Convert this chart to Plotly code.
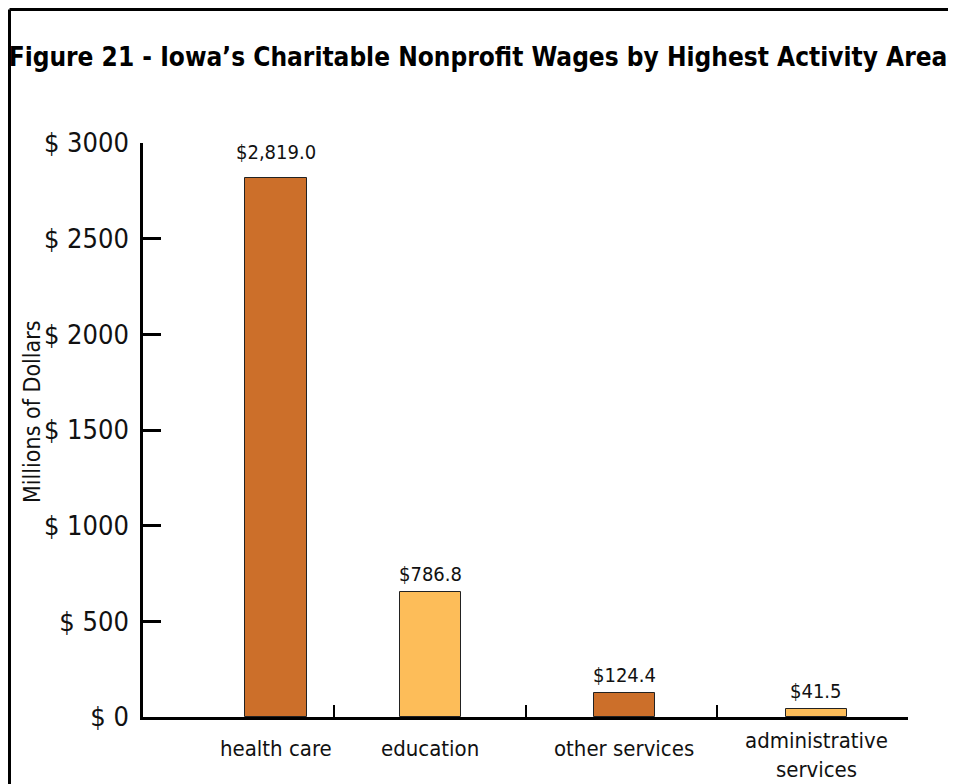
import plotly.graph_objects as go

# ---- data ----
categories = ["health care", "education", "other services", "administrative<br>services"]
wage_labels = [2819.0, 786.8, 124.4, 41.5]       # values printed above the bars
bar_heights = [2819.0, 655.0, 124.4, 41.5]       # bar heights as drawn in the source picture
colors = ["#CC6F2A", "#FDBD59", "#CC6F2A", "#FDBD59"]
y_ticks = [0, 500, 1000, 1500, 2000, 2500, 3000]

# bar centre positions along the category axis (each category spans 1 unit)
positions = [0.695, 1.503, 2.517, 3.52]
boundaries = [1, 2, 3, 4]
label_shift = [-31, -31, -31, -38]
value_shift = [12, 4, 4, 4]

# page has an 8px body margin -> figure sized to fit the window
W, H = 948, 776
L, R, T, B = 135, 48, 135, 67
pw, ph = W - L - R, H - T - B

FONT = "DejaVu Sans Condensed, sans-serif"

fig = go.Figure()
fig.add_trace(go.Bar(
    x=positions, y=bar_heights, width=0.32,
    marker=dict(color=colors, line=dict(color="#222222", width=1)),
    showlegend=False, hoverinfo="skip",
))

# value labels above bars
for xp, h, v, s in zip(positions, bar_heights, wage_labels, value_shift):
    fig.add_annotation(
        x=xp, y=h, xref="x", yref="y", text=f"${v:,.1f}",
        showarrow=False, yanchor="bottom", yshift=s,
        font=dict(family=FONT, size=20, color="#111111"),
    )

# category labels
for xp, c, s in zip(positions, categories, label_shift):
    fig.add_annotation(
        x=xp, y=0, xref="x", yref="paper", text=c,
        showarrow=False, yanchor="middle", yshift=s,
        font=dict(family=FONT, size=22, color="#111111"),
    )

fig.update_layout(
    width=W, height=H,
    margin=dict(l=L, r=R, t=T, b=B),
    paper_bgcolor="white", plot_bgcolor="white",
    font=dict(family=FONT, color="#111111"),
    title=dict(
        text="<b>Figure 21 - Iowa\u2019s Charitable Nonprofit Wages by Highest Activity Area</b>",
        font=dict(family=FONT, size=26, color="black"),
        x=(478 - 8) / W, xref="container", xanchor="center",
        y=1 - 49 / H, yref="container", yanchor="middle",
    ),
    xaxis=dict(
        range=[0, 4], showgrid=False, zeroline=False,
        showline=True, linecolor="black", linewidth=2.5,
        tickvals=boundaries, ticks="inside", ticklen=12, tickwidth=2, tickcolor="black",
        showticklabels=False,
    ),
    yaxis=dict(
        range=[0, 3000], showgrid=False, zeroline=False,
        showline=True, linecolor="black", linewidth=2.5,
        tickvals=y_ticks, ticktext=[f"$ {v}" for v in y_ticks],
        ticks="inside", ticklen=18, tickwidth=2.5, tickcolor="black",
        tickfont=dict(family=FONT, size=27, color="#111111"),
        ticklabelstandoff=6,
    ),
    bargap=0,
)

# y axis title
fig.add_annotation(
    text="Millions of Dollars", textangle=-90,
    xref="paper", yref="paper",
    x=(24 - L) / pw, y=(H - B - 403) / ph,
    xanchor="center", yanchor="middle", showarrow=False,
    font=dict(family=FONT, size=23, color="#111111"),
)

# frame lines (left and top only)
lx = (1.5 - L) / pw
ty = (H - B - 1.5) / ph
fig.add_shape(type="line", xref="paper", yref="paper", x0=lx, x1=lx, y0=-B / ph - 0.01, y1=ty,
              line=dict(color="black", width=3))
fig.add_shape(type="line", xref="paper", yref="paper", x0=lx, x1=(W - L) / pw + 0.01, y0=ty, y1=ty,
              line=dict(color="black", width=3))

fig.write_html("out.html")
